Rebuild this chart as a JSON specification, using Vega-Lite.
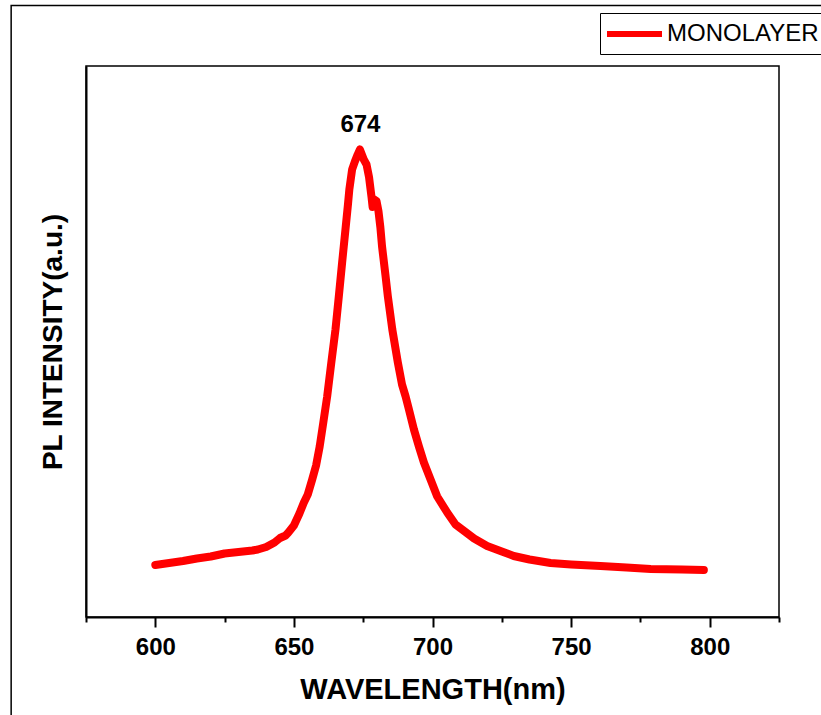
{
  "$schema": "https://vega.github.io/schema/vega-lite/v6.json",
  "width": 693,
  "height": 551,
  "autosize": {"type": "none"},
  "padding": {"left": 86, "top": 66, "right": 42, "bottom": 98},
  "background": "white",
  "config": {
    "view": {"stroke": "black", "strokeWidth": 1.5},
    "font": "Liberation Sans"
  },
  "data": {
    "values": [
      {"wavelength": 600, "intensity": 104},
      {"wavelength": 605, "intensity": 108},
      {"wavelength": 610, "intensity": 112},
      {"wavelength": 615, "intensity": 117},
      {"wavelength": 620, "intensity": 121},
      {"wavelength": 625, "intensity": 127},
      {"wavelength": 630, "intensity": 130},
      {"wavelength": 635, "intensity": 133},
      {"wavelength": 637, "intensity": 135},
      {"wavelength": 640, "intensity": 140},
      {"wavelength": 643, "intensity": 149},
      {"wavelength": 645, "intensity": 158},
      {"wavelength": 647, "intensity": 163},
      {"wavelength": 648, "intensity": 169},
      {"wavelength": 650, "intensity": 183},
      {"wavelength": 652, "intensity": 207},
      {"wavelength": 653.6, "intensity": 229},
      {"wavelength": 655, "intensity": 245},
      {"wavelength": 656.6, "intensity": 275},
      {"wavelength": 658, "intensity": 303},
      {"wavelength": 659.3, "intensity": 341},
      {"wavelength": 660.5, "intensity": 385},
      {"wavelength": 662, "intensity": 441},
      {"wavelength": 663.5, "intensity": 509},
      {"wavelength": 665, "intensity": 575},
      {"wavelength": 666.2, "intensity": 641},
      {"wavelength": 667.4, "intensity": 709},
      {"wavelength": 668.6, "intensity": 775},
      {"wavelength": 669.5, "intensity": 825},
      {"wavelength": 670, "intensity": 855},
      {"wavelength": 671, "intensity": 895},
      {"wavelength": 672, "intensity": 911},
      {"wavelength": 673, "intensity": 925},
      {"wavelength": 673.8, "intensity": 935},
      {"wavelength": 674.5, "intensity": 925},
      {"wavelength": 675.2, "intensity": 915},
      {"wavelength": 676.2, "intensity": 905},
      {"wavelength": 677.1, "intensity": 880},
      {"wavelength": 678.0, "intensity": 840},
      {"wavelength": 678.4, "intensity": 820},
      {"wavelength": 679.0, "intensity": 835},
      {"wavelength": 679.8, "intensity": 832},
      {"wavelength": 680.5, "intensity": 812},
      {"wavelength": 681.2, "intensity": 779},
      {"wavelength": 681.8, "intensity": 741},
      {"wavelength": 683.0, "intensity": 685},
      {"wavelength": 683.9, "intensity": 641},
      {"wavelength": 685.5, "intensity": 575},
      {"wavelength": 687.5, "intensity": 509},
      {"wavelength": 689, "intensity": 465},
      {"wavelength": 690.3, "intensity": 441},
      {"wavelength": 691.5, "intensity": 415},
      {"wavelength": 693.3, "intensity": 375},
      {"wavelength": 695.1, "intensity": 341},
      {"wavelength": 696.9, "intensity": 309},
      {"wavelength": 699.3, "intensity": 275},
      {"wavelength": 701.7, "intensity": 241},
      {"wavelength": 705.3, "intensity": 209},
      {"wavelength": 708.3, "intensity": 185},
      {"wavelength": 710.7, "intensity": 175},
      {"wavelength": 715, "intensity": 157},
      {"wavelength": 719.7, "intensity": 142},
      {"wavelength": 725, "intensity": 131},
      {"wavelength": 729.3, "intensity": 122},
      {"wavelength": 735, "intensity": 115},
      {"wavelength": 742.6, "intensity": 108},
      {"wavelength": 750, "intensity": 105},
      {"wavelength": 760.6, "intensity": 102},
      {"wavelength": 770, "intensity": 99},
      {"wavelength": 778.7, "intensity": 96},
      {"wavelength": 790, "intensity": 95},
      {"wavelength": 797.9, "intensity": 94}
    ]
  },
  "layer": [
    {
      "data": {"values": [{}]},
      "mark": {"type": "rect", "fill": null, "fillOpacity": 0, "stroke": "black", "strokeWidth": 1.5, "clip": false},
      "encoding": {
        "x": {"datum": 548},
        "x2": {"datum": 900},
        "y": {"datum": 1223},
        "y2": {"datum": -400}
      }
    },
    {
      "mark": {"type": "line", "strokeWidth": 8, "strokeCap": "round", "strokeJoin": "round"},
      "encoding": {
        "x": {
          "field": "wavelength",
          "type": "quantitative",
          "scale": {"domain": [575, 825], "nice": false, "zero": false},
          "axis": {
            "title": "WAVELENGTH(nm)",
            "titleFontSize": 29,
            "titleFontWeight": "bold",
            "titleColor": "black",
            "titlePadding": 16,
            "values": [575, 600, 625, 650, 675, 700, 725, 750, 775, 800, 825],
            "labelExpr": "datum.value % 50 == 0 ? datum.label : ''",
            "labelOverlap": false,
            "labelFontSize": 24,
            "labelFontWeight": "bold",
            "labelColor": "black",
            "labelPadding": 8,
            "labelBound": false,
            "labelFlush": false,
            "tickSize": {"condition": {"test": "datum.value % 50 == 0", "value": 10}, "value": 5},
            "tickColor": "black",
            "tickWidth": 2,
            "domainColor": "black",
            "domainWidth": 2,
            "grid": false
          }
        },
        "y": {
          "field": "intensity",
          "type": "quantitative",
          "scale": {"domain": [0, 1102], "nice": false},
          "axis": {
            "title": "PL INTENSITY(a.u.)",
            "titleFontSize": 28,
            "titleFontWeight": "bold",
            "titleColor": "black",
            "titlePadding": 19,
            "labels": false,
            "ticks": false,
            "grid": false,
            "domainColor": "black",
            "domainWidth": 2
          }
        },
        "color": {
          "datum": "MONOLAYER",
          "scale": {"domain": ["MONOLAYER"], "range": ["#ff0000"]},
          "legend": {
            "title": null,
            "orient": "none",
            "legendX": 514,
            "legendY": -53,
            "symbolType": "M-1.4,0H4.1",
            "symbolSize": 400,
            "symbolStrokeWidth": 6,
            "labelFontSize": 24,
            "labelColor": "black",
            "labelOffset": 33,
            "strokeColor": "black",
            "padding": 8
          }
        }
      }
    },
    {
      "data": {"values": [{}]},
      "mark": {"type": "text", "text": "674", "fontSize": 24, "fontWeight": "bold", "color": "black", "baseline": "middle", "align": "center"},
      "encoding": {
        "x": {"datum": 674},
        "y": {"datum": 984}
      }
    }
  ]
}
